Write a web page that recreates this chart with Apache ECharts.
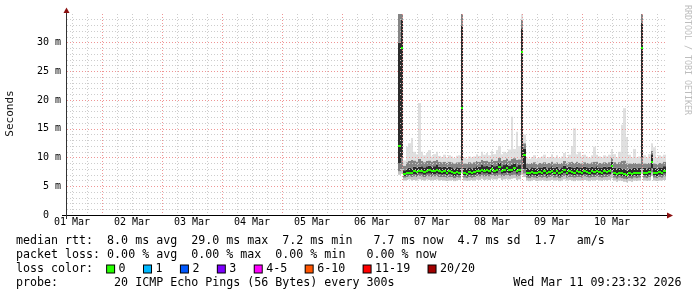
<!DOCTYPE html>
<html><head><meta charset="utf-8">
<script src="https://cdn.jsdelivr.net/npm/echarts@6/dist/echarts.min.js"></script>
<style>html,body{margin:0;padding:0;background:#fff}#c{width:697px;height:297px}</style>
</head><body><div id="c"></div>
<script>
// hours after the left edge of the plot (01 Mar 10:00) of the first 1-hour sample
const firstHour = 133;
const spanHours = 240;
const yMax = 35;
const tickLabels = ['01 Mar','02 Mar','03 Mar','04 Mar','05 Mar','06 Mar','07 Mar','08 Mar','09 Mar','10 Mar'];

// ping distribution per hour (ms)
const medianMs = [12.0, 29.0, 7.1, 7.3, 7.4, 7.3, 7.6, 7.5, 7.6, 7.7,
 7.5, 7.7, 7.8, 7.6, 7.7, 7.9, 7.6, 7.5, 7.6, 7.4,
 7.6, 7.5, 7.3, 7.5, 7.4, 18.6, 7.4, 7.2, 7.5, 7.3,
 7.5, 7.7, 7.6, 7.9, 7.7, 7.8, 7.6, 8.0, 7.7, 7.8,
 8.3, 7.7, 7.9, 8.1, 7.8, 7.9, 8.2, 7.7, 7.9, 28.4,
 10.4, 7.4, 7.3, 7.5, 7.4, 7.3, 7.5, 7.4, 7.6, 7.3,
 7.5, 7.7, 7.4, 7.6, 7.3, 7.5, 7.8, 7.4, 7.6, 7.5,
 7.4, 7.6, 7.5, 7.4, 7.6, 7.5, 7.4, 7.6, 7.5, 7.7,
 7.5, 7.4, 7.6, 7.5, 7.6, 8.5, 7.4, 7.2, 7.4, 7.3,
 7.2, 7.0, 7.3, 7.2, 7.4, 7.3, 7.4, 29.0, 7.4, 7.3,
 7.5, 9.3, 7.4, 7.3, 7.5, 7.4, 7.7];
const minMs = [7.0, 7.2, 6.0, 6.1, 6.2, 6.0, 6.1, 6.0, 6.2, 6.1,
 6.0, 6.2, 6.1, 6.0, 6.1, 6.2, 6.0, 6.1, 6.0, 5.9,
 6.0, 6.1, 5.9, 6.0, 6.1, 7.3, 6.0, 5.9, 6.0, 6.1,
 6.0, 6.2, 6.1, 6.3, 6.1, 6.2, 6.1, 6.3, 6.2, 6.2,
 6.4, 6.1, 6.2, 6.3, 6.2, 6.3, 6.4, 6.1, 6.2, 7.0,
 6.6, 6.0, 5.9, 6.0, 6.1, 5.9, 6.0, 6.1, 6.0, 5.9,
 6.0, 6.1, 6.0, 6.1, 5.9, 6.0, 6.2, 6.0, 6.1, 6.0,
 5.9, 6.1, 6.0, 6.0, 6.1, 6.0, 5.9, 6.1, 6.0, 6.1,
 6.0, 5.9, 6.1, 6.0, 6.1, 6.4, 6.0, 5.8, 6.0, 5.9,
 5.8, 5.7, 5.9, 5.8, 6.0, 5.9, 6.0, 7.2, 6.0, 5.9,
 6.0, 6.8, 6.0, 5.9, 6.0, 6.0, 6.1];
const p10Ms = [7.6, 8.0, 6.5, 6.6, 6.7, 6.6, 6.7, 6.6, 6.8, 6.7,
 6.6, 6.8, 6.7, 6.6, 6.7, 6.8, 6.6, 6.6, 6.6, 6.5,
 6.6, 6.6, 6.4, 6.6, 6.5, 8.0, 6.5, 6.4, 6.6, 6.5,
 6.6, 6.8, 6.7, 6.9, 6.7, 6.8, 6.7, 6.9, 6.8, 6.8,
 7.0, 6.7, 6.8, 6.9, 6.8, 6.9, 7.0, 6.7, 6.8, 8.0,
 7.2, 6.5, 6.4, 6.6, 6.5, 6.4, 6.6, 6.5, 6.6, 6.4,
 6.6, 6.7, 6.5, 6.6, 6.4, 6.6, 6.8, 6.5, 6.6, 6.6,
 6.5, 6.6, 6.6, 6.5, 6.7, 6.6, 6.5, 6.6, 6.6, 6.7,
 6.6, 6.5, 6.6, 6.6, 6.7, 7.2, 6.5, 6.3, 6.5, 6.4,
 6.3, 6.2, 6.4, 6.3, 6.5, 6.4, 6.5, 8.0, 6.5, 6.4,
 6.6, 7.4, 6.5, 6.4, 6.6, 6.5, 6.7];
const q1Ms = [9.0, 10.0, 6.8, 7.0, 7.0, 7.0, 7.1, 7.0, 7.2, 7.2,
 7.0, 7.2, 7.2, 7.1, 7.1, 7.3, 7.1, 7.0, 7.1, 6.9,
 7.1, 7.0, 6.8, 7.0, 6.9, 9.5, 6.9, 6.8, 7.0, 6.9,
 7.0, 7.2, 7.1, 7.4, 7.2, 7.3, 7.1, 7.4, 7.2, 7.3,
 7.7, 7.2, 7.3, 7.5, 7.3, 7.4, 7.6, 7.2, 7.4, 10.0,
 8.0, 6.9, 6.8, 7.0, 6.9, 6.8, 7.0, 6.9, 7.1, 6.8,
 7.0, 7.2, 6.9, 7.1, 6.8, 7.0, 7.3, 6.9, 7.1, 7.0,
 6.9, 7.1, 7.0, 6.9, 7.1, 7.0, 6.9, 7.1, 7.0, 7.2,
 7.0, 6.9, 7.1, 7.0, 7.1, 7.8, 6.9, 6.7, 6.9, 6.8,
 6.7, 6.6, 6.8, 6.7, 6.9, 6.8, 6.9, 10.0, 6.9, 6.8,
 7.0, 8.2, 6.9, 6.8, 7.0, 6.9, 7.2];
const q3Ms = [30.0, 34.0, 7.8, 8.1, 8.2, 8.1, 8.4, 8.3, 8.4, 8.5,
 8.3, 8.5, 8.6, 8.4, 8.5, 8.7, 8.4, 8.3, 8.4, 8.2,
 8.4, 8.3, 8.1, 8.3, 8.2, 33.0, 8.2, 8.0, 8.3, 8.1,
 8.3, 8.5, 8.4, 8.7, 8.5, 8.6, 8.4, 8.8, 8.5, 8.6,
 9.1, 8.5, 8.7, 8.9, 8.6, 8.7, 9.0, 8.5, 8.7, 32.5,
 11.5, 8.2, 8.1, 8.3, 8.2, 8.1, 8.3, 8.2, 8.4, 8.1,
 8.3, 8.5, 8.2, 8.4, 8.1, 8.3, 8.6, 8.2, 8.4, 8.3,
 8.2, 8.4, 8.3, 8.2, 8.4, 8.3, 8.2, 8.4, 8.3, 8.5,
 8.3, 8.2, 8.4, 8.3, 8.4, 9.3, 8.2, 8.0, 8.2, 8.1,
 8.0, 7.8, 8.1, 8.0, 8.2, 8.1, 8.2, 33.5, 8.2, 8.1,
 8.3, 10.6, 8.2, 8.1, 8.3, 8.2, 8.5];
const p90Ms = [35.0, 36.0, 8.6, 9.2, 9.4, 9.6, 9.5, 9.3, 9.8, 9.4,
 9.2, 9.4, 9.5, 9.3, 9.4, 9.6, 9.3, 9.2, 9.3, 9.1,
 9.3, 9.2, 9.0, 9.2, 9.2, 35.0, 9.0, 8.9, 9.2, 9.0,
 9.2, 9.4, 9.3, 9.6, 9.4, 9.5, 9.3, 9.7, 9.4, 9.5,
 10.0, 9.4, 9.6, 9.9, 9.5, 9.8, 9.9, 9.6, 9.7, 34.0,
 12.5, 9.0, 8.9, 9.1, 9.2, 8.9, 9.1, 9.0, 9.2, 8.9,
 9.1, 9.3, 9.0, 9.2, 8.9, 9.1, 9.4, 9.0, 9.2, 9.3,
 9.1, 9.3, 9.1, 9.0, 9.2, 9.1, 9.0, 9.2, 9.3, 9.3,
 9.1, 9.0, 9.2, 9.1, 9.2, 10.0, 9.2, 8.9, 9.2, 9.4,
 9.5, 9.0, 9.0, 8.9, 9.1, 8.9, 9.0, 35.5, 9.0, 8.9,
 9.1, 11.2, 9.0, 8.9, 9.1, 9.0, 9.3];
const maxMs = [38.0, 40.0, 9.5, 11.9, 12.5, 13.4, 11.0, 10.6, 19.5, 11.0,
 10.4, 10.8, 11.3, 10.2, 10.6, 11.0, 10.3, 10.1, 10.5, 10.0,
 10.4, 10.2, 9.9, 10.3, 10.4, 40.0, 10.0, 9.8, 10.2, 10.0,
 10.2, 10.6, 10.3, 11.0, 10.5, 10.8, 10.4, 11.2, 10.6, 11.3,
 12.0, 10.6, 11.0, 10.8, 11.4, 17.1, 11.5, 14.5, 12.0, 36.0,
 14.0, 10.0, 9.8, 10.1, 10.4, 9.8, 10.0, 10.2, 10.5, 9.9,
 10.1, 10.6, 10.0, 10.4, 9.9, 10.2, 10.8, 10.0, 10.5, 12.0,
 15.1, 10.6, 11.0, 10.2, 10.5, 10.2, 10.0, 10.4, 11.9, 10.5,
 10.2, 10.0, 10.4, 10.2, 10.5, 11.5, 10.6, 10.0, 11.0, 15.7,
 18.6, 13.6, 10.5, 10.0, 11.5, 10.0, 10.2, 40.0, 10.4, 10.0,
 10.6, 12.5, 11.8, 10.0, 10.4, 10.2, 10.5];

const rttStats = ['8.0', '29.0', '7.2', '7.7', '4.7', '1.7'];
const lossStats = ['0.00', '0.00', '0.00', '0.00'];
const lossLabels = ['0', '1', '2', '3', '4-5', '6-10', '11-19', '20/20'];
const lossColors = ['#26ff00', '#00b8ff', '#0059ff', '#7e00ff', '#ff00ff', '#ff5500', '#ff0000', '#a10000'];
const probeText = '20 ICMP Echo Pings (56 Bytes) every 300s';
const stampText = 'Wed Mar 11 09:23:32 2026';

const smokeColors = ['#c4c4c4', '#808080', '#2c2c2c', '#858585', '#e0e0e0'];
const MONO = '"DejaVu Sans Mono", monospace';

const rows = medianMs.map((m, i) => [firstHour + i, minMs[i], p10Ms[i], q1Ms[i], m, q3Ms[i], p90Ms[i], maxMs[i]]);

function colBounds(api, x) {
  const l = Math.round(api.coord([x - 0.5, 0])[0]);
  const r = Math.round(api.coord([x + 0.5, 0])[0]);
  return [l, r];
}
function renderSmoke(params, api) {
  const x = api.value(0);
  const lv = [1, 2, 3, 5, 6, 7].map(d => Math.min(api.value(d), yMax));
  const [l, r] = colBounds(api, x);
  const children = [];
  for (let b = 0; b < 5; b++) {
    const yTop = api.coord([x, lv[b + 1]])[1];
    const yBot = api.coord([x, lv[b]])[1];
    children.push({type: 'rect', shape: {x: l, y: yTop, width: r - l, height: yBot - yTop}, style: {fill: smokeColors[b]}});
  }
  return {type: 'group', children};
}
function renderMedian(params, api) {
  const x = api.value(0);
  const [l, r] = colBounds(api, x);
  const y = api.coord([x, api.value(4)])[1];
  return {type: 'rect', shape: {x: l, y: Math.round(y) - 1, width: r - l, height: 2}, style: {fill: lossColors[0]}};
}

const gridGray = {color: '#cdcdcd', width: 1, type: [1, 2]};
const gridRed = {color: '#ef9595', width: 1, type: [1, 2]};

const rich = {p: {width: 4.5}, g: {width: 18.4}};
lossColors.forEach((c, i) => { rich['b' + i] = {width: 7, height: 7, backgroundColor: c, borderColor: '#000', borderWidth: 1}; });
const lossRow = 'loss color:  ' + lossLabels.map((l, i) => '{b' + i + '|}{p|}' + l + '{g|}').join('');
const row1 = 'median rtt:  ' + rttStats[0] + ' ms avg  ' + rttStats[1] + ' ms max  ' + rttStats[2] + ' ms min   ' + rttStats[3] + ' ms now  ' + rttStats[4] + ' ms sd  ' + rttStats[5] + '   am/s';
const row2 = 'packet loss: ' + lossStats[0] + ' % avg  ' + lossStats[1] + ' % max  ' + lossStats[2] + ' % min   ' + lossStats[3] + ' % now';
const row4 = 'probe:        ' + probeText;

function txt(text, x, y, size, extra) {
  return Object.assign({type: 'text', x: x, y: y, z: 50, style: Object.assign({text: text, font: size + 'px ' + MONO, fill: '#000', align: 'left', verticalAlign: 'middle', textAlign: 'left', textVerticalAlign: 'middle'}, extra || {})});
}

const chart = echarts.init(document.getElementById('c'), null, {renderer: 'canvas'});
chart.setOption({
  animation: false,
  backgroundColor: '#fff',
  grid: [
    {left: 67, right: 30, top: 14, bottom: 82},
    {left: 72, right: 30, top: 14, bottom: 82},
    {left: 102, right: 30, top: 14, bottom: 82}
  ],
  xAxis: [
    {type: 'value', gridIndex: 0, min: 0, max: spanHours, show: false},
    {type: 'value', gridIndex: 1, min: 0, max: 238, interval: 6, z: 5,
     axisLine: {show: false}, axisTick: {show: false},
     splitLine: {show: true, showMinLine: true, showMaxLine: false, lineStyle: gridGray},
     axisLabel: {show: true, margin: 2, color: '#000', fontFamily: MONO, fontSize: 10,
       showMinLabel: true, showMaxLabel: false,
       formatter: v => (v % 24 === 0 && tickLabels[v / 24]) ? tickLabels[v / 24] : ''}},
    {type: 'value', gridIndex: 2, min: 0, max: 226, interval: 24, z: 6,
     axisLine: {show: false}, axisTick: {show: false}, axisLabel: {show: false},
     splitLine: {show: true, showMinLine: true, showMaxLine: false, lineStyle: gridRed}}
  ],
  yAxis: [
    {type: 'value', gridIndex: 0, min: 0, max: yMax, interval: 1, z: 5,
     axisLine: {show: false}, axisTick: {show: false},
     splitLine: {show: true, showMinLine: false, showMaxLine: false, lineStyle: gridGray},
     axisLabel: {margin: 6, color: '#000', fontFamily: MONO, fontSize: 10, showMaxLabel: false,
       formatter: v => v === 0 ? '0  ' : (v % 5 === 0 ? v + ' m' : '')}},
    {type: 'value', gridIndex: 0, min: 0, max: yMax, interval: 5, z: 6, position: 'left',
     axisLine: {show: false}, axisTick: {show: false}, axisLabel: {show: false},
     splitLine: {show: true, showMinLine: false, showMaxLine: false, lineStyle: gridRed}},
    {type: 'value', gridIndex: 1, min: 0, max: yMax, show: false},
    {type: 'value', gridIndex: 2, min: 0, max: yMax, show: false}
  ],
  series: [
    {type: 'custom', xAxisIndex: 0, yAxisIndex: 0, clip: true, z: 2, renderItem: renderSmoke,
     encode: {x: 0, y: [1, 7]}, data: rows, silent: true},
    {type: 'custom', xAxisIndex: 0, yAxisIndex: 0, clip: true, z: 8, renderItem: renderMedian,
     encode: {x: 0, y: 4}, data: rows, silent: true}
  ],
  graphic: [
    {type: 'line', z: 40, shape: {x1: 62, y1: 215.5, x2: 668, y2: 215.5}, style: {stroke: '#000', lineWidth: 1}},
    {type: 'line', z: 40, shape: {x1: 66.5, y1: 219, x2: 66.5, y2: 12}, style: {stroke: '#333', lineWidth: 1}},
    {type: 'polygon', z: 41, shape: {points: [[667, 212.5], [673, 215.5], [667, 218.5]]}, style: {fill: '#8b1010'}},
    {type: 'polygon', z: 41, shape: {points: [[63.5, 13], [66.5, 7.5], [69.5, 13]]}, style: {fill: '#8b1010'}},
    txt('Seconds', 0, 0, 11, {align: 'center', textAlign: 'center', fill: '#111'}),
    txt('RRDTOOL / TOBI OETIKER', 0, 0, 8.3, {align: 'center', textAlign: 'center', fill: '#bdbdbd'}),
    txt(row1, 16, 240.7, 11.65),
    txt(row2, 16, 255, 11.65),
    txt(lossRow, 16, 269, 11.65, {rich: rich}),
    txt(row4, 16, 283.3, 11.65),
    txt(stampText, 681.5, 283.3, 11.65, {align: 'right', textAlign: 'right'})
  ].map((g, i) => {
    if (i === 4) { g.x = 10.5; g.y = 113.5; g.rotation = Math.PI / 2; }
    if (i === 5) { g.x = 687.5; g.y = 60; g.rotation = -Math.PI / 2; }
    return g;
  })
});
</script></body></html>
